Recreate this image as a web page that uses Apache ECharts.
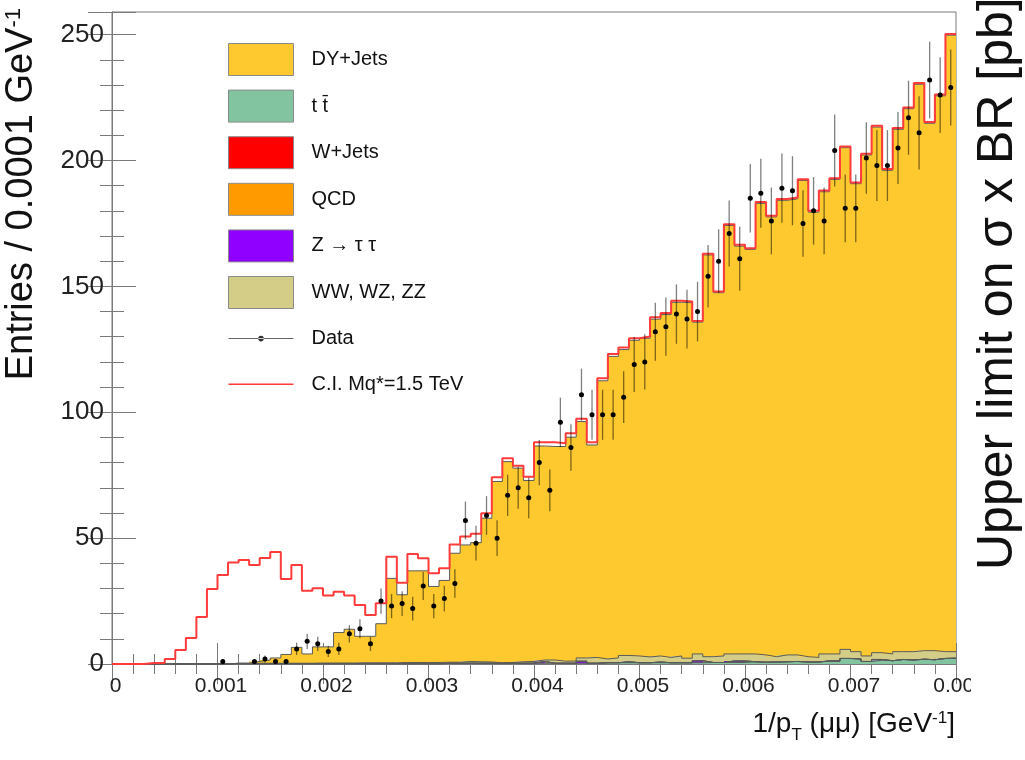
<!DOCTYPE html>
<html>
<head>
<meta charset="utf-8">
<script src="https://cdn.jsdelivr.net/npm/echarts@6/dist/echarts.min.js"></script>
<style>
  html, body { margin: 0; padding: 0; background: #ffffff; }
  #chart { width: 1025px; height: 760px; }
</style>
</head>
<body>
<div id="chart"></div>
<script>
// 1/pT(mumu) histogram: 80 bins of width 0.0001 GeV^-1 from 0 to 0.008
const binWidth = 0.0001;
const xTickLabels = ['0', '0.001', '0.002', '0.003', '0.004', '0.005', '0.006', '0.007', '0.008'];
const yTickLabels = ['0', '50', '100', '150', '200', '250'];

// Background processes, entries per bin (stacked bottom to top: ttbar, Z->tautau, W+Jets, QCD, dibosons, DY)
const dyJets = [
  0, 0, 0, 0, 0, 0, 0, 0, 0, 0,
  0, 0, 0, 0.7, 1.3, 2.1, 3.5, 6.3, 3.7, 6.4,
  6.4, 12.1, 13.4, 10.5, 10.5, 15.5, 33.5, 26.9, 36.4, 36.4,
  30.2, 32.5, 43.3, 46.3, 47.3, 57.1, 72.0, 79.8, 76.9, 71.9,
  85.0, 84.8, 85.3, 88.9, 93.9, 84.4, 110.5, 119.8, 121.5, 125.4,
  126.6, 133.8, 136.2, 140.5, 141.2, 131.8, 159.6, 144.3, 170.2, 162.0,
  160.7, 179.4, 174.7, 180.6, 181.2, 189.2, 176.9, 183.6, 188.5, 199.3,
  185.9, 199.0, 208.8, 192.1, 207.5, 215.7, 225.0, 209.5, 220.8, 244.9
];
const ttbar = [
  0, 0, 0, 0, 0, 0, 0, 0, 0, 0,
  0, 0.1, 0.1, 0.1, 0.1, 0.1, 0.1, 0.1, 0.1, 0.1,
  0.1, 0.1, 0.1, 0.1, 0.1, 0.1, 0.1, 0.1, 0.1, 0.1,
  0.1, 0.3, 0.3, 0.3, 0.3, 0.3, 0.3, 0.3, 0.3, 0.3,
  0.3, 0.3, 0.3, 0.3, 0.3, 0.3, 0.5, 0.5, 0.5, 0.5,
  0.5, 0.5, 0.5, 0.5, 0.5, 0.5, 0.6, 0.6, 0.6, 0.6,
  0.9, 0.7, 0.8, 0.9, 1.0, 0.8, 0.8, 1.2, 1.0, 2.2,
  2.0, 1.0, 1.5, 1.3, 1.8, 1.6, 1.9, 1.7, 2.2, 2.3
];
const wJets = [
  0, 0, 0, 0, 0, 0, 0, 0, 0, 0,
  0, 0, 0, 0, 0, 0, 0, 0, 0, 0,
  0, 0, 0, 0, 0, 0, 0, 0, 0, 0,
  0, 0, 0, 0, 0, 0, 0, 0, 0, 0,
  0, 0, 0, 0, 0, 0, 0, 0, 0, 0,
  0, 0, 0, 0, 0, 0, 0, 0, 0, 0,
  0, 0, 0, 0, 0, 0, 0, 0, 0, 0,
  0, 0, 0, 0, 0, 0, 0, 0, 0, 0
];
const qcd = [
  0, 0, 0, 0, 0, 0, 0, 0, 0, 0,
  0, 0, 0, 0, 0, 0, 0, 0, 0, 0,
  0, 0, 0, 0, 0, 0, 0, 0, 0, 0,
  0, 0, 0, 0, 0, 0, 0, 0, 0, 0,
  0, 0, 0, 0, 0, 0, 0, 0, 0, 0,
  0, 0, 0, 0, 0, 0, 0, 0, 0, 0,
  0, 0, 0, 0, 0, 0, 0, 0, 0, 0,
  0, 0, 0, 0, 0, 0, 0, 0, 0, 0
];
const zTauTau = [
  0, 0, 0, 0, 0, 0, 0, 0, 0, 0,
  0, 0, 0, 0, 0, 0, 0, 0, 0, 0,
  0, 0, 0, 0, 0, 0, 0, 0, 0, 0,
  0, 0, 0, 0, 0, 0, 0, 0, 0, 0,
  0.7, 0, 0, 0, 0.8, 0, 0, 0, 0.4, 0,
  0, 0.3, 0, 0, 0, 0.8, 0, 0, 0.6, 0.6,
  0, 0, 0, 0, 0, 0, 0, 0, 0.3, 0,
  0, 0, 0.3, 0, 0, 0, 0, 0, 0, 0
];
const diboson = [
  0, 0, 0, 0, 0, 0, 0, 0, 0, 0,
  0, 0.2, 0.2, 0.2, 0.2, 0.2, 0.2, 0.2, 0.2, 0.3,
  0.3, 0.3, 0.3, 0.4, 0.4, 0.4, 0.4, 0.5, 0.5, 0.5,
  0.5, 0.4, 0.4, 0.7, 0.6, 0.5, 0.2, 0.3, 0.6, 0.7,
  0.6, 1.3, 0.8, 0.9, 1.3, 2.3, 1.5, 1.9, 2.5, 2.7,
  2.3, 2.4, 2.1, 2.7, 1.8, 2.7, 2.3, 2.6, 2.8, 2.8,
  3.1, 2.9, 2.1, 2.7, 2.6, 2.1, 1.8, 2.8, 2.7, 3.6,
  2.9, 2.2, 2.7, 2.7, 3.1, 3.3, 3.4, 3.6, 2.7, 2.6
];

// Contact interaction signal (Mq* = 1.5 TeV) on top of the backgrounds
const ciSignal = [
  0, 0, 0, 0.4, 0.4, 2.0, 5.6, 10.3, 18.7, 29.8,
  35.4, 40.3, 41.3, 39.3, 42.1, 44.5, 33.8, 39.3, 29.1, 30.1,
  27.2, 28.7, 27.2, 23.4, 19.5, 24.1, 42.6, 32.3, 43.7, 42.0,
  36.0, 38.0, 47.5, 50.6, 51.7, 59.9, 74.2, 81.7, 78.8, 74.4,
  88.1, 88.1, 87.7, 91.7, 97.4, 88.1, 113.5, 123.1, 125.7, 129.4,
  130.1, 137.7, 139.4, 144.3, 144.0, 136.3, 163.0, 148.0, 174.7, 166.5,
  165.2, 183.5, 178.1, 184.7, 185.3, 192.6, 180.0, 188.1, 193.0, 205.6,
  191.3, 202.7, 213.8, 196.6, 212.9, 221.1, 230.8, 215.3, 226.2, 250.3
];

// Observed events per bin
const observed = [
  0, 0, 0, 0, 0, 0, 0, 0, 0, 0,
  1, 0, 0, 1, 2, 1, 1, 6, 9, 8,
  5, 6, 12, 14, 8, 25, 23, 24, 22, 31,
  23, 26, 32, 57, 48, 59, 50, 67, 70, 66,
  80, 69, 96, 86, 107, 99, 99, 99, 106, 119,
  120, 132, 134, 139, 137, 140, 154, 160, 171, 161,
  185, 187, 176, 189, 188, 175, 180, 176, 204, 181,
  181, 201, 198, 198, 205, 217, 211, 232, 226, 229
];

const FONT = '"Liberation Sans", Arial, Helvetica, sans-serif';
const nBins = dyJets.length;
const xMax = nBins * binWidth;
const yMax = 259;

const components = [
  { name: 't t\u0304', values: ttbar, color: '#82c4a0' },
  { name: 'Z \u2192 \u03c4 \u03c4', values: zTauTau, color: '#9000ff' },
  { name: 'W+Jets', values: wJets, color: '#ff0000' },
  { name: 'QCD', values: qcd, color: '#ff9a00' },
  { name: 'WW, WZ, ZZ', values: diboson, color: '#d3cd88' },
  { name: 'DY+Jets', values: dyJets, color: '#fdc92f' }
];

// One filled rectangle per bin, edges snapped to whole pixels so neighbours join without seams
function binRect(params, api) {
  const lo = api.value(1), hi = api.value(2);
  if (!(hi > lo)) return null;
  const p0 = api.coord([api.value(0), hi]);
  const p1 = api.coord([api.value(3), lo]);
  const x0 = Math.round(p0[0]), x1 = Math.round(p1[0]);
  return {
    type: 'rect',
    shape: { x: x0, y: p0[1], width: x1 - x0, height: p1[1] - p0[1] },
    style: { fill: api.visual('color') }
  };
}

function stepPoints(values) {
  const pts = values.map((v, i) => [i * binWidth, v]);
  pts.push([xMax, values[values.length - 1]]);
  return pts;
}

const series = [];
let running = dyJets.map(() => 0);
components.forEach((c) => {
  const rows = c.values.map((v, i) => [i * binWidth, running[i], running[i] + v, (i + 1) * binWidth]);
  running = running.map((b, i) => b + c.values[i]);
  series.push({
    name: c.name,
    type: 'custom',
    renderItem: binRect,
    itemStyle: { color: c.color },
    encode: { x: [0, 3], y: [1, 2] },
    data: rows,
    clip: true,
    silent: true,
    z: 1
  });
  series.push({
    type: 'line',
    step: 'end',
    data: stepPoints(running.slice()),
    symbol: 'none',
    lineStyle: { color: '#5a5a5a', width: 1 },
    clip: true,
    silent: true,
    z: 2
  });
});

series.push({
  name: 'C.I. Mq*=1.5 TeV',
  type: 'line',
  step: 'end',
  data: stepPoints(ciSignal),
  symbol: 'none',
  lineStyle: { color: '#ff3b3b', width: 2 },
  itemStyle: { color: '#ff3b3b' },
  clip: true,
  silent: true,
  z: 3
});

series.push({
  name: 'Data',
  type: 'custom',
  itemStyle: { color: '#000000' },
  data: observed.map((n, i) => [(i + 0.5) * binWidth, n]).filter(d => d[1] > 0),
  encode: { x: 0, y: 1 },
  renderItem: function (params, api) {
    const x = api.value(0), n = api.value(1);
    const err = Math.sqrt(n);
    const top = api.coord([x, n + err]);
    const bot = api.coord([x, Math.max(0, n - err)]);
    const c = api.coord([x, n]);
    return {
      type: 'group',
      children: [
        { type: 'line', shape: { x1: c[0], y1: top[1], x2: c[0], y2: bot[1] },
          style: { stroke: 'rgba(0,0,0,0.5)', lineWidth: 1.3 } },
        { type: 'circle', shape: { cx: c[0], cy: c[1], r: 2.5 }, style: { fill: '#000000' } }
      ]
    };
  },
  clip: true,
  silent: true,
  z: 4
});

const dataIcon = 'path://M0,0h0.05v0.05h-0.05z M0,15.6h65v0.9h-65z M29.7,16a2.8,2.8 0 1,0 5.6,0a2.8,2.8 0 1,0 -5.6,0z M64.95,31.95h0.05v0.05h-0.05z';
const lineIcon = 'path://M0,0h0.05v0.05h-0.05z M0,15.2h65v1.6h-65z M64.95,31.95h0.05v0.05h-0.05z';
const box = (color) => ({ icon: 'rect', itemStyle: { color: color, borderColor: '#8a8a8a', borderWidth: 1 } });

const tickStyle = { color: '#7a7a7a', width: 1 };
const xTickText = (v) => xTickLabels[Math.round(v / 0.001)] ?? '';
const yTickText = (v) => yTickLabels[Math.round(v / 50)] ?? '';

const option = {
  animation: false,
  backgroundColor: '#ffffff',
  grid: {
    left: 112, right: 69, top: 12, bottom: 96,
    containLabel: false, outerBoundsMode: 'none',
    show: true, borderColor: '#7a7a7a', borderWidth: 1, backgroundColor: 'transparent'
  },
  legend: {
    orient: 'vertical', left: 228, top: 43, padding: 0,
    itemWidth: 65, itemHeight: 32, itemGap: 13.6,
    selectedMode: false,
    textStyle: { fontFamily: FONT, fontSize: 20, color: '#111111', padding: [0, 0, 0, 13] },
    data: [
      Object.assign({ name: 'DY+Jets' }, box('#fdc92f')),
      Object.assign({ name: 't t\u0304' }, box('#82c4a0')),
      Object.assign({ name: 'W+Jets' }, box('#ff0000')),
      Object.assign({ name: 'QCD' }, box('#ff9a00')),
      Object.assign({ name: 'Z \u2192 \u03c4 \u03c4' }, box('#9000ff')),
      Object.assign({ name: 'WW, WZ, ZZ' }, box('#d3cd88')),
      { name: 'Data', icon: dataIcon, itemStyle: { color: '#333333', borderWidth: 0 } },
      { name: 'C.I. Mq*=1.5 TeV', icon: lineIcon, itemStyle: { color: '#ff3b3b', borderWidth: 0 } }
    ]
  },
  xAxis: [
    {
      type: 'value', min: 0, max: xMax, interval: 0.001, position: 'bottom',
      axisLine: { show: true, lineStyle: tickStyle },
      axisTick: { show: true, inside: true, length: 21, lineStyle: tickStyle },
      minorTick: { show: true, splitNumber: 5, length: 10, lineStyle: tickStyle },
      splitLine: { show: false },
      axisLabel: { formatter: xTickText, fontFamily: FONT, fontSize: 21, color: '#222222', margin: 12, padding: [0, 0, 0, 7] }
    },
    {
      type: 'value', min: 0, max: xMax, interval: 0.001, position: 'top',
      axisLine: { show: true, lineStyle: tickStyle },
      axisTick: { show: true, inside: true, length: 20, lineStyle: tickStyle },
      minorTick: { show: true, splitNumber: 5, length: 10, lineStyle: tickStyle },
      splitLine: { show: false },
      axisLabel: { show: false }
    }
  ],
  yAxis: [
    {
      type: 'value', min: 0, max: yMax, interval: 50, position: 'left',
      axisLine: { show: true, lineStyle: tickStyle },
      axisTick: { show: true, inside: true, length: 24, lineStyle: tickStyle },
      minorTick: { show: true, splitNumber: 5, length: 12, lineStyle: tickStyle },
      splitLine: { show: false },
      axisLabel: { formatter: yTickText, showMaxLabel: false, fontFamily: FONT, fontSize: 26, color: '#222222', margin: 8 }
    },
    {
      type: 'value', min: 0, max: yMax, interval: 50, position: 'right',
      axisLine: { show: true, lineStyle: tickStyle },
      axisTick: { show: true, inside: true, length: 24, lineStyle: tickStyle },
      minorTick: { show: true, splitNumber: 5, length: 12, lineStyle: tickStyle },
      splitLine: { show: false },
      axisLabel: { show: false }
    }
  ],
  graphic: [
    {
      type: 'text', x: 25, y: 8, rotation: Math.PI / 2, z: 60,
      style: {
        text: '{m|Entries / 0.0001 GeV}{s|-1}',
        align: 'right', verticalAlign: 'middle',
        rich: {
          m: { fontFamily: FONT, fontSize: 38, lineHeight: 44, verticalAlign: 'top', fill: '#111111' },
          s: { fontFamily: FONT, fontSize: 22, lineHeight: 22, verticalAlign: 'top', fill: '#111111' }
        }
      }
    },
    {
      type: 'text', x: 955, y: 710, z: 60,
      style: {
        text: '{n|1/p}{b|T}{n| (\u03bc\u03bc) [GeV}{p|-1}{n|]}',
        align: 'right', verticalAlign: 'top',
        rich: {
          n: { fontFamily: FONT, fontSize: 28, lineHeight: 34, verticalAlign: 'top', fill: '#111111' },
          b: { fontFamily: FONT, fontSize: 17, lineHeight: 18, verticalAlign: 'bottom', fill: '#111111' },
          p: { fontFamily: FONT, fontSize: 17, lineHeight: 17, verticalAlign: 'top', fill: '#111111' }
        },
        lineHeight: 44
      }
    },
    {
      type: 'rect', x: 971, y: 0, z: 55,
      shape: { width: 54, height: 760 },
      style: { fill: '#ffffff' }
    },
    {
      type: 'text', x: 998, y: 570, rotation: Math.PI / 2, z: 60,
      style: {
        text: 'Upper limit on \u03c3 x BR [pb]',
        align: 'left', verticalAlign: 'middle',
        fontFamily: FONT, fontSize: 50, fill: '#111111'
      }
    }
  ],
  series: series
};

const chart = echarts.init(document.getElementById('chart'), null, { renderer: 'canvas' });
chart.setOption(option);
</script>
</body>
</html>
